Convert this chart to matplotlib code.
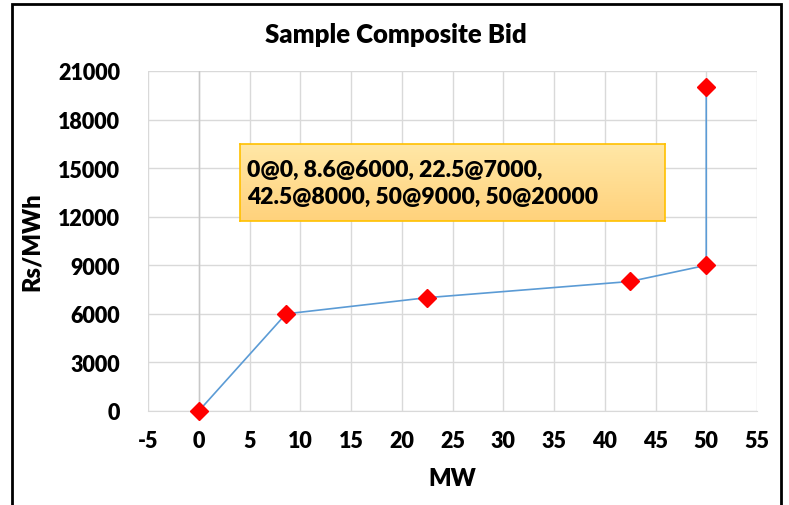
import matplotlib
matplotlib.use("Agg")
import matplotlib.pyplot as plt
import numpy as np
from matplotlib.patches import Rectangle
from matplotlib.colors import LinearSegmentedColormap

mw = [0, 8.6, 22.5, 42.5, 50, 50]
price = [0, 6000, 7000, 8000, 9000, 20000]
title = "Sample Composite Bid"
xlabel = "MW"
ylabel = "Rs/MWh"
note = "0@0, 8.6@6000, 22.5@7000,\n42.5@8000, 50@9000, 50@20000"
xticks = list(range(-5, 56, 5))
yticks = list(range(0, 21001, 3000))

W = 'heavy'
plt.rcParams['font.family'] = ['Lato', 'DejaVu Sans']
fig = plt.figure(figsize=(7.89, 5.06), dpi=100)
ax = fig.add_axes([148/789, 1-412/506, (757-148)/789, (412-72)/506])

ax.plot(mw, price, color='#5B9BD5', lw=1.2, marker='D', markersize=9.5,
        markerfacecolor='#FF0000', markeredgecolor='#FF0000', zorder=5, clip_on=False)
ax.set_xlim(-5, 55)
ax.set_ylim(0, 21000)
ax.set_xticks(xticks)
ax.set_yticks(yticks)
ax.set_xticklabels([str(t) for t in xticks], fontsize=15.5, fontweight=W)
ax.set_yticklabels([str(t) for t in yticks], fontsize=15.5, fontweight=W)
ax.grid(True, color='#D9D9D9', lw=1)
ax.set_axisbelow(True)
ax.axvline(0, color='#C8C8C8', lw=1, zorder=1)
for s in ['top', 'right', 'left']:
    ax.spines[s].set_visible(False)
ax.spines['bottom'].set_color('#D9D9D9')
ax.tick_params(axis='x', length=0, pad=14)
ax.tick_params(axis='y', length=0, pad=20)
ax.set_xlabel(xlabel, fontsize=17, fontweight=W, labelpad=11)
ax.set_ylabel(ylabel, fontsize=17, fontweight=W, labelpad=11)
fig.text(396/789, 1-35/506, title, fontsize=18.5, fontweight=W, ha='center', va='center')

# annotation box with gradient
bx = fig.add_axes([240/789, 1-222/506, 425/789, 77/506])
grad = np.linspace(0, 1, 100).reshape(-1, 1)
cmap = LinearSegmentedColormap.from_list('g', ['#FFE7A6', '#FFD27C'])
bx.imshow(grad, aspect='auto', cmap=cmap, extent=[0, 1, 0, 1], origin='upper')
bx.set_xlim(0, 1); bx.set_ylim(0, 1)
bx.set_xticks([]); bx.set_yticks([])
for s in bx.spines.values():
    s.set_color('#FFC000'); s.set_linewidth(1.2)
bx.text(7/425, 0.5, note, fontsize=16.5, fontweight=W, ha='left', va='center',
        linespacing=1.35, transform=bx.transAxes)

fig.add_artist(Rectangle((12/789, -0.02), (781-12)/789, 1.02-5/506, transform=fig.transFigure,
                         fill=False, edgecolor='black', lw=2))
fig.savefig('out.png', dpi=100)
